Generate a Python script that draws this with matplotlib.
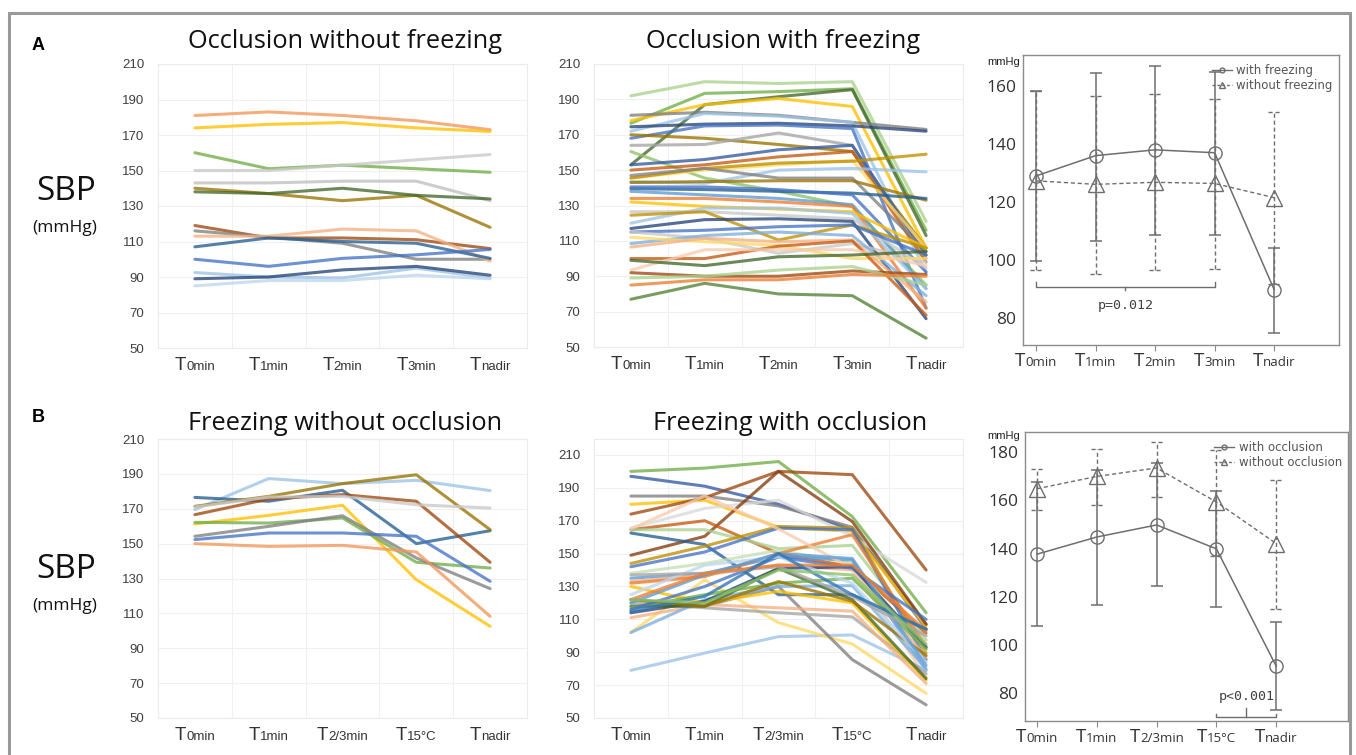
import matplotlib
matplotlib.use('Agg')
import matplotlib.pyplot as plt
from matplotlib.offsetbox import TextArea, HPacker, AnnotationBbox
from matplotlib.lines import Line2D
from matplotlib.patches import Rectangle

# ---------------- DATA ----------------
subs_A = ['0min', '1min', '2min', '3min', 'nadir']
subs_B = ['0min', '1min', '2/3min', '15°C', 'nadir']

# Panel A left: occlusion without freezing (individual SBP)
occ_nofrz_colors = ['#F1975A', '#FFC000', '#70AD47', '#C9C9C9', '#BFBFBF',
                    '#997300', '#43682B', '#9E480E', '#7F7F7F', '#F4B183',
                    '#255E91', '#4472C4', '#9DC3E6', '#264478', '#BDD7EE']
occ_nofrz = [
    [181, 183, 181, 178, 173],
    [174, 176, 177, 174, 172],
    [160, 151, 153, 151, 149],
    [150, 150, 153, 156, 159],
    [143, 143, 144, 144, 133],
    [140, 137, 133, 136, 118],
    [138, 137, 140, 136, 134],
    [119, 112, 112, 111, 106],
    [116, 112.5, 109, 100, 100],
    [113, 113, 117, 116, 99],
    [107, 112, 110, 109, 100.5],
    [100, 96, 100.5, 102.5, 105.5],
    [92.5, 90, 89.5, 95, 89.5],
    [89, 90, 94, 96, 91],
    [85, 88, 88, 91, 89],
]

# Panel A middle: occlusion with freezing
occ_frz_colors = ['#A9D18E', '#70AD47', '#43682B', '#FFC000', '#7F7F7F',
                  '#9DC3E6', '#264478', '#4472C4', '#997300', '#A5A5A5',
                  '#8CC168', '#335AA1', '#C55A11', '#FFD966', '#BF9000',
                  '#9DC3E6', '#808080', '#997300', '#255E91', '#5B9BD5',
                  '#4472C4', '#ED7D31', '#FFC000', '#9DC3E6', '#C9C9C9',
                  '#BF9000', '#264478', '#4472C4', '#C9C9C9', '#7CAFDD',
                  '#FFD966', '#F4B183', '#C55A11', '#F8CBAD', '#43682B',
                  '#9E480E', '#A9D18E', '#ED7D31', '#548235']
occ_frz = [
    [192, 200, 199, 200, 121],
    [176.5, 193.4, 194.4, 196, 116],
    [153, 187, 191.5, 195.5, 113],
    [178, 187, 190.5, 186, 106],
    [181, 182.7, 181, 177, 173],
    [172, 182, 180.5, 177, 92],
    [174.5, 176, 176.5, 175, 172],
    [168, 175, 175.5, 173.5, 72],
    [170, 168, 164.5, 160.5, 106],
    [164, 164.5, 171, 164, 100],
    [160.5, 145.5, 138, 129.5, 85],
    [153, 156, 161.5, 164, 102],
    [150, 153, 157.5, 160.5, 98],
    [145.5, 150, 153, 155.5, 106],
    [145.5, 151, 154, 155, 159],
    [143.5, 142.5, 150, 151, 149],
    [147, 151, 145.5, 145.5, 104],
    [143, 143.5, 144, 144, 133],
    [139.5, 139, 138, 137, 134],
    [138, 136, 134, 130.5, 83],
    [140.5, 140.5, 139, 136, 92.5],
    [134, 134, 132, 129.5, 72],
    [132, 129.5, 128, 126.5, 106],
    [120, 128.5, 128.5, 125.5, 83],
    [126.5, 126.5, 124.5, 122.5, 94.5],
    [124.5, 126.5, 110.5, 119, 106],
    [117, 122, 122.5, 121, 66],
    [115, 116, 118, 119, 102],
    [115, 111.5, 103, 108.5, 98],
    [108.5, 113, 115, 113, 79],
    [112, 109.5, 107.5, 100, 100],
    [106.5, 111.5, 109.5, 110.5, 75.5],
    [100, 100, 107, 110, 68],
    [93.5, 105, 105, 105, 96],
    [99, 96, 101, 102, 104],
    [92, 90, 90, 93, 91],
    [89, 90, 93.5, 95.5, 85],
    [85, 88, 88, 91, 90],
    [77, 86, 80, 79, 55],
]

# Panel A right: mean +/- SD
occ_frz_mean = [129, 136, 138, 137, 89.8]
occ_frz_hi = [158.2, 164.6, 166.9, 164.8, 104.1]
occ_frz_lo = [99.5, 106.7, 108.6, 108.6, 74.7]
occ_nofrz_mean = [127.3, 126.1, 126.8, 126.4, 121.5]
occ_nofrz_hi = [158.2, 156.7, 157.1, 155.5, 151.0]
occ_nofrz_lo = [96.4, 95.3, 96.5, 97.0, 91.7]

# Panel B left: freezing without occlusion
frz_noocc_colors = ['#9DC3E6', '#255E91', '#997300', '#9E480E', '#C9C9C9',
                    '#FFC000', '#70AD47', '#7F7F7F', '#4472C4', '#F1975A']
frz_noocc = [
    [169.5, 187.3, 184.4, 186.3, 180.4],
    [176.5, 174.3, 180.6, 150, 157.4],
    [171.4, 177.1, 184.4, 189.5, 158],
    [166.6, 175.6, 178.1, 174.3, 139.3],
    [171, 176.7, 177.1, 172.3, 170.4],
    [161.3, 166.2, 172, 129.3, 102.6],
    [162.2, 161.8, 164.7, 139.3, 136],
    [154.2, 159.9, 166, 141.8, 124.2],
    [152.3, 156.1, 156.1, 154.2, 128.4],
    [150, 148.4, 149, 145.2, 108.3],
]

# Panel B middle: freezing with occlusion
frz_occ_colors = ['#70AD47', '#335AA1', '#7F7F7F', '#FFC000', '#9E480E',
                  '#D9D9D9', '#843C0C', '#C55A11', '#A9D18E', '#255E91',
                  '#BF9000', '#4472C4', '#C5E0B4', '#5B9BD5', '#F4B183',
                  '#ED7D31', '#F8CBAD', '#9DC3E6', '#FFD966', '#7F7F7F',
                  '#A5A5A5', '#F4B183', '#7CAFDD', '#FFC000', '#264478',
                  '#43682B', '#70AD47', '#997300', '#4472C4', '#BDD7EE',
                  '#5B9BD5', '#A5A5A5', '#ED7D31', '#2E75B6', '#8CC168']
frz_occ = [
    [200, 202, 206, 172.5, 114],
    [197, 191, 180, 164.5, 107],
    [185, 185, 179, 166, 104],
    [180, 182.5, 166, 163.5, 106],
    [174, 184, 200, 198, 140],
    [165.5, 177.5, 182.5, 160.5, 132.5],
    [149, 160.5, 200, 169.5, 107],
    [164.5, 170, 150, 142, 101.5],
    [164.5, 164.5, 153, 155, 97.5],
    [162.5, 155.5, 125, 125, 104],
    [144, 154.5, 166.5, 165.5, 89.5],
    [142, 151, 165.5, 164.5, 85.5],
    [138, 144, 152, 144, 91.5],
    [135, 138, 148, 146, 79],
    [133, 137, 143, 140, 87],
    [132, 136, 150, 161.5, 93.5],
    [165, 185, 165, 141, 75],
    [79, 89.5, 99.5, 100.5, 79],
    [102, 134, 108, 95, 65],
    [122, 118, 130, 85.5, 58],
    [120, 117, 114, 111.5, 77],
    [111, 119, 117, 115, 71],
    [102, 122, 130, 130.5, 80],
    [130, 120, 127, 120, 73],
    [114, 121, 141, 142, 93],
    [118, 118, 141, 122, 74],
    [117, 125, 132, 135, 92],
    [122, 118, 133, 121, 88],
    [116, 130, 148, 141, 110],
    [125, 143, 148, 132, 84],
    [120, 137, 150, 147, 82],
    [137, 138, 142, 124, 100],
    [122, 138, 143, 143, 103],
    [115, 124, 150, 125, 104],
    [122, 120, 140, 137, 95],
]

# Panel B right: mean +/- SD
frz_occ_mean = [137.7, 144.8, 149.8, 139.9, 91.3]
frz_occ_hi = [167.6, 172.7, 175.6, 163.9, 109.4]
frz_occ_lo = [107.9, 116.6, 124.4, 115.9, 73.1]
frz_noocc_mean = [164.8, 169.9, 173.4, 159.3, 142.1]
frz_noocc_hi = [172.8, 181.4, 184.1, 180.7, 168.6]
frz_noocc_lo = [156.1, 158.2, 161.4, 136.8, 114.8]

# ---------------- FIGURE ----------------
W, H = 1356, 755
fig = plt.figure(figsize=(W / 100, H / 100), dpi=100)
SANS = ['Liberation Sans', 'DejaVu Sans']
TFONT = ['Open Sans', 'DejaVu Sans']


def ax_px(x0, y0, x1, y1):
    return fig.add_axes([x0 / W, 1 - y1 / H, (x1 - x0) / W, (y1 - y0) / H])


def tlabels(ax, subs, off_px, big, small, color='#333333', fam=SANS):
    trans = ax.get_xaxis_transform()
    for i, s in enumerate(subs):
        t1 = TextArea('T', textprops=dict(size=big, color=color, family=fam))
        t2 = TextArea(s, textprops=dict(size=small, color=color, family=fam))
        pk = HPacker(children=[t1, t2], align='baseline', pad=0, sep=0)
        ab = AnnotationBbox(pk, (i, 0), xycoords=trans,
                            xybox=(0, -off_px * 0.72), boxcoords='offset points',
                            box_alignment=(0.5, 1), frameon=False, pad=0,
                            annotation_clip=False)
        ax.add_artist(ab)


def spaghetti(ax, data, colors, subs, ytop=210):
    for vals, c in zip(data, colors):
        ax.plot(range(len(vals)), vals, color=c, lw=2.2, alpha=0.78,
                solid_capstyle='round')
    ax.set_xlim(-0.5, 4.5)
    ax.set_ylim(50, ytop)
    ax.set_yticks(range(50, 211, 20))
    ax.set_xticks([0.5, 1.5, 2.5, 3.5])
    ax.set_xticklabels([])
    ax.grid(True, color='#F0F0F0', lw=0.8)
    ax.set_axisbelow(True)
    for sp in ax.spines.values():
        sp.set_color('#EBEBEB')
        sp.set_linewidth(0.8)
    ax.tick_params(axis='both', length=0)
    ax.tick_params(axis='y', labelsize=9.5, labelcolor='#404040', pad=10)
    for lab in ax.get_yticklabels():
        lab.set_family(SANS)
    tlabels(ax, subs, 9, 13.5, 9.5)


def meanplot(ax, subs, m1, hi1, lo1, m2, hi2, lo2, lab1, lab2, xlim, ylim,
             yticks, capw):
    x = list(range(len(m1)))
    gc = '#6E6E6E'
    # dashed series (triangles)
    ax.vlines(x, lo2, hi2, colors=gc, lw=1.0, linestyles=(0, (3, 2)))
    ax.hlines(hi2, [v - capw for v in x], [v + capw for v in x], colors=gc,
              lw=1.0, linestyles=(0, (3, 2)))
    ax.hlines(lo2, [v - capw for v in x], [v + capw for v in x], colors=gc,
              lw=1.0, linestyles=(0, (3, 2)))
    ax.plot(x, m2, color=gc, lw=1.0, ls=(0, (3, 2)), marker='^', ms=11.5,
            mfc='none', mec=gc, mew=1.0)
    # solid series (circles)
    ax.vlines(x, lo1, hi1, colors=gc, lw=1.1)
    ax.hlines(hi1, [v - capw for v in x], [v + capw for v in x], colors=gc, lw=1.1)
    ax.hlines(lo1, [v - capw for v in x], [v + capw for v in x], colors=gc, lw=1.1)
    ax.plot(x, m1, color=gc, lw=1.1, marker='o', ms=9.5, mfc='none', mec=gc,
            mew=1.0)
    ax.set_xlim(*xlim)
    ax.set_ylim(*ylim)
    ax.set_yticks(yticks)
    ax.set_xticks(x)
    ax.set_xticklabels([])
    for sp in ax.spines.values():
        sp.set_color('#8C8C8C')
        sp.set_linewidth(1.0)
    ax.tick_params(axis='x', length=4, color='#8C8C8C', direction='out')
    ax.tick_params(axis='y', length=0, labelsize=12.5, labelcolor='#333333', pad=5)
    for lab in ax.get_yticklabels():
        lab.set_family(TFONT)
    tlabels(ax, subs, 7, 13.5, 9.5, fam=TFONT)
    h1 = Line2D([], [], color=gc, lw=1.0, marker='o', ms=3.5, mfc='none', mec=gc)
    h2 = Line2D([], [], color=gc, lw=1.0, ls=(0, (2, 1.5)), marker='^', ms=4,
                mfc='none', mec=gc)
    ax.legend([h1, h2], [lab1, lab2], loc='upper right', bbox_to_anchor=(1.01, 1.0),
              frameon=False, fontsize=8.5, handlelength=1.7, handletextpad=0.4,
              labelspacing=0.15, labelcolor='#555555', borderaxespad=0.4)


# Panel A
axA1 = ax_px(158, 64, 527, 348)
spaghetti(axA1, occ_nofrz, occ_nofrz_colors, subs_A)
axA2 = ax_px(594, 64, 963, 347)
spaghetti(axA2, occ_frz, occ_frz_colors, subs_A)
axA3 = ax_px(1023, 55, 1339, 345)
meanplot(axA3, subs_A, occ_frz_mean, occ_frz_hi, occ_frz_lo,
         occ_nofrz_mean, occ_nofrz_hi, occ_nofrz_lo,
         'with freezing', 'without freezing', (-0.22, 5.09), (70.7, 170.7),
         [80, 100, 120, 140, 160], 0.1)
# p bracket A
axA3.plot([0, 0, 3, 3], [92.4, 90.8, 90.8, 92.4], color='#6E6E6E', lw=1.0)
axA3.plot([1.5, 1.5], [90.8, 89.6], color='#6E6E6E', lw=1.0)
axA3.text(1.5, 84.4, 'p=0.012', ha='center', va='center', fontsize=9.5,
          family='DejaVu Sans Mono', color='#404040')

# Panel B
axB1 = ax_px(158, 439, 527, 718)
spaghetti(axB1, frz_noocc, frz_noocc_colors, subs_B)
axB2 = ax_px(594, 439, 963, 718)
spaghetti(axB2, frz_occ, frz_occ_colors, subs_B, ytop=219.7)
axB3 = ax_px(1025, 432, 1348, 721)
meanplot(axB3, subs_B, frz_occ_mean, frz_occ_hi, frz_occ_lo,
         frz_noocc_mean, frz_noocc_hi, frz_noocc_lo,
         'with occlusion', 'without occlusion', (-0.2, 5.2), (68.6, 188.3),
         [80, 100, 120, 140, 160, 180], 0.1)
axB3.plot([3, 3, 4, 4], [71.7, 70.3, 70.3, 71.7], color='#6E6E6E', lw=1.0)
axB3.plot([3.5, 3.5], [70.3, 74.0], color='#6E6E6E', lw=1.0)
axB3.text(3.5, 78.9, 'p<0.001', ha='center', va='center', fontsize=9.5,
          family='DejaVu Sans Mono', color='#404040')

# Titles
TS = 18.3
fig.text(345 / W, 1 - 42 / H, 'Occlusion without freezing', ha='center', va='center',
         fontsize=TS, family=TFONT, color='#111111')
fig.text(783 / W, 1 - 42 / H, 'Occlusion with freezing', ha='center', va='center',
         fontsize=TS, family=TFONT, color='#111111')
fig.text(345 / W, 1 - 423 / H, 'Freezing without occlusion', ha='center', va='center',
         fontsize=TS, family=TFONT, color='#111111')
fig.text(790 / W, 1 - 423 / H, 'Freezing with occlusion', ha='center', va='center',
         fontsize=TS, family=TFONT, color='#111111')

# Panel letters
fig.text(38 / W, 1 - 45 / H, 'A', ha='center', va='center', fontsize=13,
         fontweight='bold', family=SANS)
fig.text(38 / W, 1 - 418 / H, 'B', ha='center', va='center', fontsize=13,
         fontweight='bold', family=SANS)

# SBP labels
for yc in (192, 570):
    fig.text(66 / W, 1 - yc / H, 'SBP', ha='center', va='center', fontsize=24,
             family=TFONT, color='#111111')
    fig.text(65 / W, 1 - (yc + 36) / H, '(mmHg)', ha='center', va='center',
             fontsize=12.5, family=TFONT, color='#111111')

# mmHg above right panels
fig.text(1004 / W, 1 - 62 / H, 'mmHg', ha='center', va='center', fontsize=8,
         family=SANS, color='#222222')
fig.text(1004 / W, 1 - 436 / H, 'mmHg', ha='center', va='center', fontsize=8,
         family=SANS, color='#222222')

# outer frame
fig.patches.append(Rectangle((9 / W, -0.1), (1350 - 9) / W, 1.1 - 13 / H,
                             transform=fig.transFigure, fill=False,
                             ec='#9A9A9A', lw=2.2))

fig.savefig('out.png', dpi=100)
